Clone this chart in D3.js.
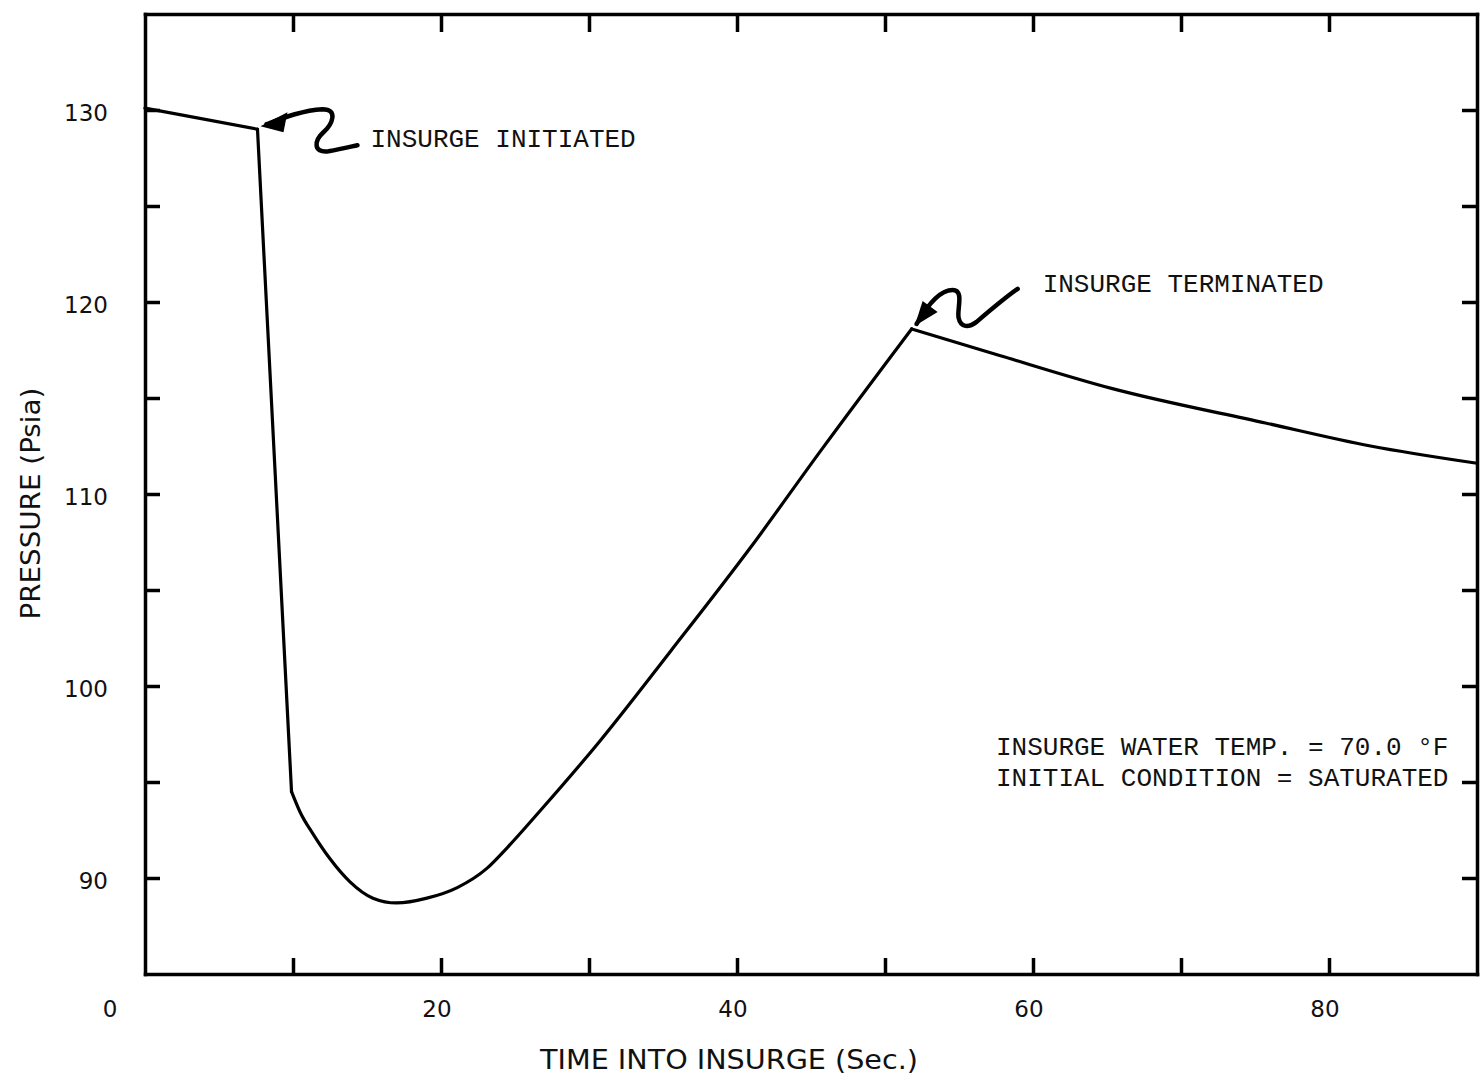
<!DOCTYPE html>
<html lang="en">
	<head>
		<meta charset="utf-8">
		<title>Pressure during insurge</title>
		<script type="text/javascript" src="https://d3js.org/d3.v7.min.js"></script>
		<style type="text/css">

body {
  margin: 0;
  background: #fff;
}

.tick_label {
    font-family: "DejaVu Sans", sans-serif;
    font-size: 23px;
    fill: #111;
}

.label {
    font-family: "DejaVu Sans Condensed", "DejaVu Sans", sans-serif;
    font-size: 26px;
    fill: #111;
}

.note {
    font-family: "Courier New", "Nimbus Mono PS", "FreeMono", "Liberation Mono", monospace;
    font-size: 26px;
    fill: #111;
}

.axis path,
.axis line {
  fill: none;
  stroke: #000;
  stroke-width: 3.5;
}

.curve {
  fill: none;
  stroke: #000;
  stroke-width: 3.2;
  stroke-linejoin: round;
  stroke-linecap: round;
}

		</style>
	</head>
	<body>
		<script type="text/javascript">

			// pressure trace
			var timeSec = [0, 7.6, 9.9, 10.5, 11.35, 12.5, 13.85, 15.4, 17.0, 19.05, 21.1, 23.1, 24.5,
				26.7, 30.7, 35.5, 40.9, 45.7, 51.8, 57.8, 65.3, 75.7, 82.8, 90];
			var pressurePsia = [130.1, 129.0, 94.5, 93.4, 92.3, 91.0, 89.8, 88.95, 88.7, 88.95, 89.5, 90.5, 91.6,
				93.5, 97.1, 101.8, 107.2, 112.3, 118.6, 117.2, 115.5, 113.7, 112.5, 111.6];

			// sharp corners in the trace
			var kinkTimes = [7.6, 9.9, 51.8];

			var xTickValues = [10, 20, 30, 40, 50, 60, 70, 80];
			var xTickLabels = [0, 20, 40, 60, 80];
			var yTickValues = [90, 95, 100, 105, 110, 115, 120, 125, 130];
			var yTickLabels = [90, 100, 110, 120, 130];

			var xLabel = "TIME INTO INSURGE (Sec.)";
			var yLabel = "PRESSURE (Psia)";

			var notes = [
				{text: "INSURGE INITIATED", t: 7.6, p: 129.0},
				{text: "INSURGE TERMINATED", t: 51.8, p: 118.6}
			];
			var conditionLines = ["INSURGE WATER TEMP. = 70.0 °F", "INITIAL CONDITION = SATURATED"];

			var W = 1480, H = 1079;
			var margin = {top: 14, right: 3, bottom: 105, left: 145},
			w = W - margin.left - margin.right,
			h = H - margin.top - margin.bottom;

			var svg = d3.select("body")
						.append("svg")
							.attr("width", W)
							.attr("height", H)
						.append("g")
							.attr("transform", "translate(" + margin.left + "," + margin.top + ")");

			var xScale = d3.scaleLinear().domain([0, 90]).range([0, w]);
			var yScale = d3.scaleLinear().domain([85, 135]).range([h, 0]);

			// frame + inward ticks on all four sides
			svg.append("g")
				.attr("class", "x axis")
				.attr("transform", "translate(0," + h + ")")
				.call(d3.axisBottom(xScale).tickValues(xTickValues).tickSizeInner(-16).tickSizeOuter(0).tickFormat(""));
			svg.append("g")
				.attr("class", "x axis")
				.call(d3.axisTop(xScale).tickValues(xTickValues).tickSizeInner(-18).tickSizeOuter(0).tickFormat(""));
			svg.append("g")
				.attr("class", "y axis")
				.call(d3.axisLeft(yScale).tickValues(yTickValues).tickSizeInner(-15).tickSizeOuter(0).tickFormat(""));
			svg.append("g")
				.attr("class", "y axis")
				.attr("transform", "translate(" + w + ",0)")
				.call(d3.axisRight(yScale).tickValues(yTickValues).tickSizeInner(-15).tickSizeOuter(0).tickFormat(""));
			svg.selectAll(".axis path").attr("stroke-linecap", "square");

			// tick labels
			svg.selectAll(".xlab")
				.data(xTickLabels)
				.enter()
				.append("text")
				.attr("class", "tick_label")
				.attr("x", function(d) { return d === 0 ? xScale(d) - 35 : xScale(d) - 4; })
				.attr("y", h + 43)
				.attr("text-anchor", "middle")
				.text(function(d) { return d; });

			svg.selectAll(".ylab")
				.data(yTickLabels)
				.enter()
				.append("text")
				.attr("class", "tick_label")
				.attr("x", -37)
				.attr("y", function(d) { return yScale(d) + 11; })
				.attr("text-anchor", "end")
				.text(function(d) { return d; });

			svg.append("text")  // x text label
				.attr("class", "label")
				.attr("x", w / 2 - 82)
				.attr("y", h + 95)
				.attr("text-anchor", "middle")
				.attr("textLength", 378)
				.attr("lengthAdjust", "spacingAndGlyphs")
				.text(xLabel);

			svg.append("text")  // y text label
				.attr("class", "label")
				.attr("transform", "translate(" + (-margin.left + 40) + "," + yScale(109.5) + ") rotate(-90)")
				.attr("text-anchor", "middle")
				.attr("textLength", 232)
				.attr("lengthAdjust", "spacingAndGlyphs")
				.text(yLabel);

			// curve, split at the kinks so the corners stay sharp
			var pts = timeSec.map(function(t, i) { return [t, pressurePsia[i]]; });
			var pieces = [], cur = [];
			pts.forEach(function(p) {
				cur.push(p);
				if (kinkTimes.indexOf(p[0]) >= 0) {
					pieces.push(cur);
					cur = [p];
				}
			});
			pieces.push(cur);

			var line = d3.line()
				.x(function(d) { return xScale(d[0]); })
				.y(function(d) { return yScale(d[1]); })
				.curve(d3.curveMonotoneX);

			svg.selectAll(".curve")
				.data(pieces)
				.enter()
				.append("path")
				.attr("class", "curve")
				.attr("d", line);

			// squiggly arrows pointing at the kinks
			var arrowPaths = [
				"M6,-2 C22,-8 42,-16 62,-17 C78,-17 72,-2 63,6 C54,14 52,27 68,25 C80,23 88,21 97,19",
				"M2,-2 C10,-16 24,-36 38,-36 C50,-36 42,-16 44,-8 C46,2 54,2 62,-4 C76,-16 90,-28 103,-37"
			];
			var arrowHeads = [
				"M0,0 L27,-14 L23,6 Z",
				"M0,0 L8,-25 L23,-14 Z"
			];
			var textOffsets = [[110, 21], [128, -34]];

			notes.forEach(function(n, i) {
				var g = svg.append("g")
					.attr("transform", "translate(" + (xScale(n.t) + 3) + "," + (yScale(n.p) - 3) + ")");
				g.append("path")
					.attr("d", arrowPaths[i])
					.attr("fill", "none")
					.attr("stroke", "#000")
					.attr("stroke-width", 4.5)
					.attr("stroke-linecap", "round");
				g.append("path")
					.attr("d", arrowHeads[i])
					.attr("fill", "#000");
				g.append("text")
					.attr("class", "note")
					.attr("x", textOffsets[i][0])
					.attr("y", textOffsets[i][1])
					.text(n.text);
			});

			svg.selectAll(".cond")
				.data(conditionLines)
				.enter()
				.append("text")
				.attr("class", "note")
				.attr("x", 996 - margin.left)
				.attr("y", function(d, i) { return yScale(96.4) + i * 31; })
				.text(function(d) { return d; });

		</script>
	</body>
</html>
